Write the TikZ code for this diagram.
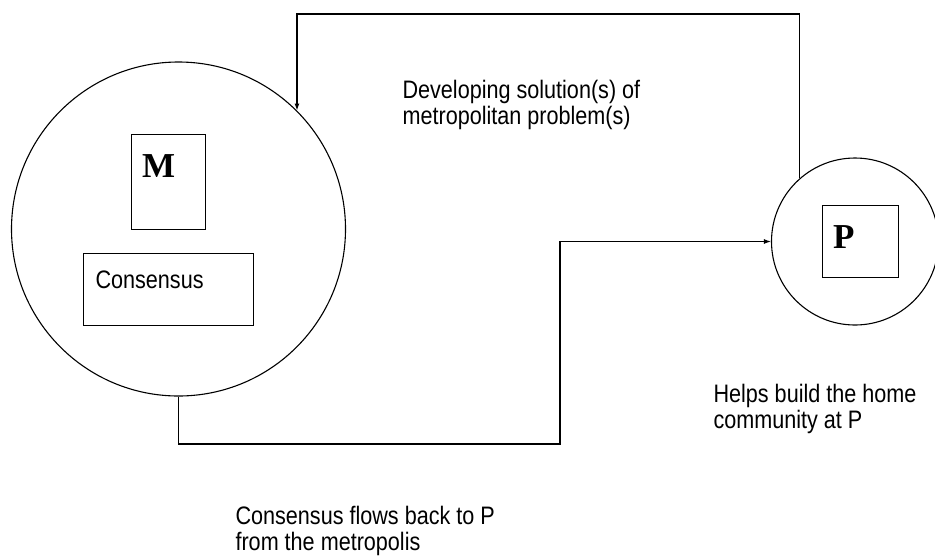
\documentclass[tikz,border=0pt]{standalone}
\usepackage{fontspec}
\setmainfont{Liberation Sans}
\newfontfamily\serifbf{Liberation Serif}
\usetikzlibrary{arrows.meta}
\newcommand{\tallt}[1]{\scalebox{1}[1.17]{#1}}
\begin{document}
\begin{tikzpicture}[x=1pt,y=-1pt,line width=1.1pt,
  ring/.style={draw,circle,inner sep=0pt},
  box/.style={draw,rectangle,inner sep=0pt,line width=1pt},
  lbl/.style={anchor=base west,inner sep=0pt,font=\fontsize{21.6}{26}\selectfont},
  big/.style={anchor=base west,inner sep=0pt,font=\fontsize{35}{38}\selectfont\serifbf\bfseries},
  flow/.style={-{Latex[length=7pt,width=5pt]}}]
\useasboundingbox (0,0) rectangle (935,558);
\node[ring,minimum size=334pt] (M) at (178.5,229) {};
\node[ring,minimum size=167pt] (P) at (855,241.5) {};
\node[box,minimum width=74pt,minimum height=95pt] (Mbox) at (168,181.5) {};
\node[box,minimum width=170pt,minimum height=72pt] (Cbox) at (168,289) {};
\node[box,minimum width=76pt,minimum height=72pt] (Pbox) at (860,241.5) {};
\node[big] (Mt) at (141.5,177) {M};
\node[big] (Pt) at (832.5,248) {P};
\node[lbl] (ct) at (95,288) {\tallt{Consensus}};
\node[lbl] (dev1) at (402,98) {\tallt{Developing solution(s) of}};
\node[lbl] (dev2) at (402,124) {\tallt{metropolitan problem(s)}};
\node[lbl] (help1) at (713,402) {\tallt{Helps build the home}};
\node[lbl] (help2) at (713,428) {\tallt{community at P}};
\node[lbl] (flow1) at (235,524) {\tallt{Consensus flows back to P}};
\node[lbl] (flow2) at (235,550) {\tallt{from the metropolis}};
\coordinate (topy) at (0,14);
\coordinate (bot) at (560,444);
\draw[flow] (P.131) -- (P.131 |- topy) -| (M.45);
\draw[flow] (M.south) |- (bot) |- (P.west);
\end{tikzpicture}
\end{document}
